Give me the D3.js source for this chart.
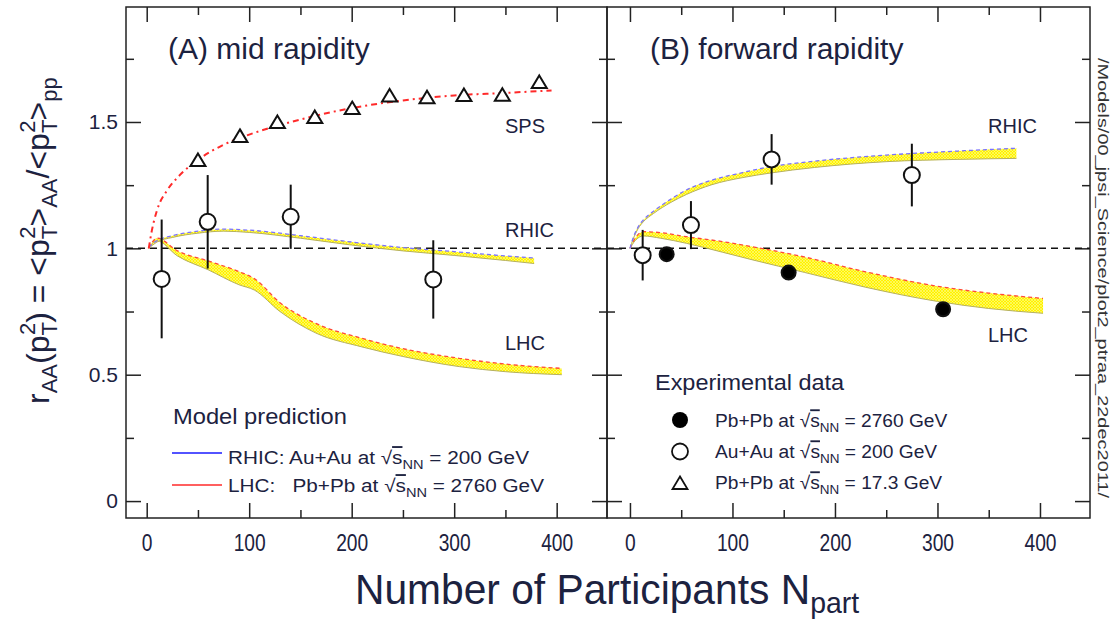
<!DOCTYPE html>
<html>
<head>
<meta charset="utf-8">
<script src="https://cdn.jsdelivr.net/npm/d3@7"></script>
<style>
  body { margin: 0; background: #fff; }
  svg { display: block; font-family: "Liberation Sans", Arial, sans-serif; }
</style>
</head>
<body>
<div id="chart"></div>
<script>
// ticks
const xMajor = [0, 100, 200, 300, 400];
const xMinor = [50, 150, 250, 350];
const yMajor = [0, 0.5, 1, 1.5];
const yMinor = [0.25, 0.75, 1.25, 1.75];

// SPS Pb+Pb 17.3 GeV (triangles, mid rapidity)
const spsN = [50, 91, 127.5, 164, 200.5, 237, 273.5, 309.5, 347, 383];
const spsR = [1.35, 1.445, 1.50, 1.52, 1.555, 1.605, 1.598, 1.607, 1.608, 1.658];
// SPS model curve
const spsCurveN = [2, 5, 10, 20, 30, 50, 75, 100, 150, 200, 250, 300, 350, 395];
const spsCurveR = [1.0, 1.07, 1.15, 1.23, 1.28, 1.35, 1.41, 1.45, 1.51, 1.555, 1.585, 1.605, 1.615, 1.625];

// Au+Au 200 GeV, mid rapidity (open circles)
const auMidN = [14.6, 59.5, 140.5, 279.6];
const auMidR = [0.879, 1.105, 1.125, 0.877];
const auMidErr = [0.235, 0.185, 0.127, 0.155];

// Au+Au 200 GeV, forward rapidity (open circles)
const auFwdN = [12.4, 59.5, 138.2, 275];
const auFwdR = [0.973, 1.092, 1.352, 1.29];
const auFwdErr = [0.1, 0.095, 0.1, 0.124];

// Pb+Pb 2760 GeV, forward rapidity (filled circles)
const pbFwdN = [35.8, 154.8, 305.5];
const pbFwdR = [0.977, 0.904, 0.759];
const pbFwdErr = [0.01, 0.02, 0.01];

// model bands
const rhicMidN  = [2, 10, 25, 50, 75, 100, 150, 200, 250, 300, 350, 378];
const rhicMidHi = [1.005, 1.03, 1.05, 1.068, 1.076, 1.072, 1.05, 1.025, 1.003, 0.987, 0.97, 0.962];
const rhicMidLo = [1.0, 1.025, 1.043, 1.06, 1.068, 1.063, 1.04, 1.013, 0.99, 0.972, 0.952, 0.94];

const lhcMidN  = [2, 10, 30, 60, 90, 105, 130, 165, 210, 250, 305, 350, 405];
const lhcMidHi = [1.0, 1.04, 0.99, 0.95, 0.908, 0.88, 0.785, 0.703, 0.644, 0.603, 0.565, 0.542, 0.525];
const lhcMidLo = [1.0, 1.03, 0.97, 0.915, 0.856, 0.835, 0.75, 0.665, 0.61, 0.572, 0.532, 0.512, 0.5];

const rhicFwdN  = [0, 3, 8, 13, 23, 40, 55, 80, 110, 137, 180, 250, 320, 377];
const rhicFwdHi = [1.0, 1.04, 1.085, 1.112, 1.147, 1.195, 1.231, 1.27, 1.3, 1.323, 1.345, 1.369, 1.385, 1.396];
const rhicFwdLo = [1.0, 1.035, 1.078, 1.105, 1.138, 1.182, 1.213, 1.252, 1.28, 1.298, 1.32, 1.343, 1.352, 1.356];

const lhcFwdN  = [0, 5, 13, 30, 55, 90, 120, 170, 230, 300, 350, 403];
const lhcFwdHi = [1.0, 1.04, 1.066, 1.062, 1.046, 1.027, 1.006, 0.966, 0.907, 0.85, 0.823, 0.802];
const lhcFwdLo = [1.0, 1.03, 1.049, 1.04, 1.02, 0.985, 0.954, 0.905, 0.846, 0.79, 0.762, 0.743];

const W = 1112, H = 623;
const plotTop = 7, plotBottom = 518;
const ink = "#1c2240";

const y = d3.scaleLinear().domain([-0.067, 1.955]).range([plotBottom, plotTop]);
const xL = d3.scaleLinear().domain([-20.2, 449.1]).range([126, 607]);
const xR = d3.scaleLinear().domain([-22.4, 448.8]).range([607, 1090]);

const svg = d3.select("#chart").append("svg")
  .attr("width", W).attr("height", H);

// hatched yellow for the bands
const defs = svg.append("defs");
const pat = defs.append("pattern").attr("id", "hatch")
  .attr("patternUnits", "userSpaceOnUse").attr("width", 3).attr("height", 3);
pat.append("rect").attr("width", 3).attr("height", 3).attr("fill", "#fff200");
pat.append("path").attr("d", "M0,0L3,3M3,0L0,3")
  .attr("stroke", "#fffb8a").attr("stroke-width", 0.6);

// small helper for text with sub/superscripts
function rich(text, parts) {
  let cur = 0;
  parts.forEach(p => {
    const off = p.o || 0;
    const ts = text.append("tspan").attr("dy", off - cur).text(p.t);
    if (p.s) ts.attr("font-size", p.s);
    if (p.dx) ts.attr("dx", p.dx);
    if (p.ol) ts.attr("text-decoration", "overline");
    cur = off;
  });
  return text;
}

// stretch/squeeze a text horizontally so it spans the given width
function fit(text, width) {
  const x0 = +text.attr("x");
  const w = text.node().getBBox().width;
  text.attr("transform", `translate(${x0},0) scale(${width / w},1) translate(${-x0},0)`);
  return text;
}

function drawPanel(x, showYLabels) {
  const g = svg.append("g");
  const tick = sel => sel.call(s => s.select(".domain").remove())
    .call(s => s.selectAll("line").attr("stroke", "#222").attr("stroke-width", 1.5));

  g.append("g").attr("transform", `translate(0,${plotBottom})`)
    .call(d3.axisBottom(x).tickValues(xMajor).tickSize(-15).tickPadding(16))
    .call(tick)
    .call(s => s.selectAll("text")
      .attr("font-size", 24).attr("fill", ink)
      .attr("font-family", "'Liberation Sans', Arial, sans-serif")
      .attr("transform", "scale(0.8,1)"));
  g.append("g").attr("transform", `translate(0,${plotBottom})`)
    .call(d3.axisBottom(x).tickValues(xMinor).tickSize(-8).tickFormat(""))
    .call(tick);
  g.append("g").attr("transform", `translate(0,${plotTop})`)
    .call(d3.axisTop(x).tickValues(xMajor).tickSize(-15).tickFormat(""))
    .call(tick);
  g.append("g").attr("transform", `translate(0,${plotTop})`)
    .call(d3.axisTop(x).tickValues(xMinor).tickSize(-8).tickFormat(""))
    .call(tick);

  const x0 = x.range()[0], x1 = x.range()[1];
  const left = d3.axisLeft(y).tickValues(yMajor).tickSize(-15).tickPadding(8)
    .tickFormat(showYLabels ? d => String(d) : "");
  g.append("g").attr("transform", `translate(${x0},0)`)
    .call(left)
    .call(tick)
    .call(s => s.selectAll("text")
      .attr("font-size", 21).attr("fill", ink)
      .attr("font-family", "'Liberation Sans', Arial, sans-serif"));
  g.append("g").attr("transform", `translate(${x0},0)`)
    .call(d3.axisLeft(y).tickValues(yMinor).tickSize(-8).tickFormat(""))
    .call(tick);
  g.append("g").attr("transform", `translate(${x1},0)`)
    .call(d3.axisRight(y).tickValues(yMajor).tickSize(-15).tickFormat(""))
    .call(tick);
  g.append("g").attr("transform", `translate(${x1},0)`)
    .call(d3.axisRight(y).tickValues(yMinor).tickSize(-8).tickFormat(""))
    .call(tick);

  // reference line at 1
  g.append("line")
    .attr("x1", x0).attr("x2", x1).attr("y1", y(1)).attr("y2", y(1))
    .attr("stroke", "#111").attr("stroke-width", 1.5).attr("stroke-dasharray", "7,5");

  g.append("rect")
    .attr("x", x0).attr("y", plotTop).attr("width", x1 - x0).attr("height", plotBottom - plotTop)
    .attr("fill", "none").attr("stroke", "#222").attr("stroke-width", 1.5);
  return g;
}

function band(g, x, N, hi, lo, edgeColor) {
  const rows = N.map((n, i) => ({ n, hi: hi[i], lo: lo[i] }));
  const area = d3.area().curve(d3.curveMonotoneX)
    .x(d => x(d.n)).y0(d => y(d.lo)).y1(d => y(d.hi));
  const lineHi = d3.line().curve(d3.curveMonotoneX).x(d => x(d.n)).y(d => y(d.hi));
  const lineLo = d3.line().curve(d3.curveMonotoneX).x(d => x(d.n)).y(d => y(d.lo));
  g.append("path").datum(rows).attr("d", area).attr("fill", "url(#hatch)");
  g.append("path").datum(rows).attr("d", lineLo)
    .attr("fill", "none").attr("stroke", "#b5b060").attr("stroke-width", 1);
  g.append("path").datum(rows).attr("d", lineHi)
    .attr("fill", "none").attr("stroke", edgeColor).attr("stroke-width", 1.3)
    .attr("stroke-dasharray", "4,3");
}

function errPoints(g, x, N, R, E, fill, r) {
  const rows = N.map((n, i) => ({ n, r: R[i], e: E[i] }));
  g.append("g").selectAll("line").data(rows).join("line")
    .attr("x1", d => x(d.n)).attr("x2", d => x(d.n))
    .attr("y1", d => y(d.r + d.e)).attr("y2", d => y(d.r - d.e))
    .attr("stroke", "#111").attr("stroke-width", 2);
  g.append("g").selectAll("circle").data(rows).join("circle")
    .attr("cx", d => x(d.n)).attr("cy", d => y(d.r)).attr("r", r)
    .attr("fill", fill).attr("stroke", "#111").attr("stroke-width", 2);
}

const triPath = "M0,-6.5L7.5,6L-7.5,6Z";

// ---------- panel A ----------
const gA = drawPanel(xL, true);
band(gA, xL, lhcMidN, lhcMidHi, lhcMidLo, "#ff4a3a");
band(gA, xL, rhicMidN, rhicMidHi, rhicMidLo, "#7a72ff");

gA.append("path")
  .datum(spsCurveN.map((n, i) => [n, spsCurveR[i]]))
  .attr("d", d3.line().curve(d3.curveMonotoneX).x(d => xL(d[0])).y(d => y(d[1])))
  .attr("fill", "none").attr("stroke", "#ff2a2a").attr("stroke-width", 2)
  .attr("stroke-dasharray", "6,4,2,4");

gA.append("g").selectAll("path").data(spsN).join("path")
  .attr("d", triPath)
  .attr("transform", (n, i) => `translate(${xL(n)},${y(spsR[i])})`)
  .attr("fill", "#fff").attr("stroke", "#111").attr("stroke-width", 2);

errPoints(gA, xL, auMidN, auMidR, auMidErr, "#fff", 8);

gA.append("text").attr("x", 168).attr("y", 59).attr("font-size", 30).attr("fill", ink)
  .text("(A) mid rapidity");
[["SPS", 133], ["RHIC", 237], ["LHC", 350]].forEach(([t, yy]) =>
  gA.append("text").attr("x", 505).attr("y", yy).attr("font-size", 20).attr("fill", ink).text(t));

fit(gA.append("text").attr("x", 173).attr("y", 424).attr("font-size", 22).attr("fill", ink)
  .text("Model prediction"), 174);
gA.append("line").attr("x1", 172).attr("x2", 222).attr("y1", 453).attr("y2", 453)
  .attr("stroke", "#1a1aff").attr("stroke-width", 1.6);
gA.append("line").attr("x1", 172).attr("x2", 222).attr("y1", 485).attr("y2", 485)
  .attr("stroke", "#ff2a2a").attr("stroke-width", 1.6);
fit(rich(gA.append("text").attr("x", 228).attr("y", 464).attr("font-size", 18.5).attr("fill", ink)
  .attr("xml:space", "preserve").style("white-space", "pre"),
  [{ t: "RHIC: Au+Au at √" }, { t: "s", ol: true }, { t: "NN", s: 13, o: 5 }, { t: " = 200 GeV" }]), 302);
fit(rich(gA.append("text").attr("x", 228).attr("y", 492).attr("font-size", 18.5).attr("fill", ink)
  .attr("xml:space", "preserve").style("white-space", "pre"),
  [{ t: "LHC:   Pb+Pb at √" }, { t: "s", ol: true }, { t: "NN", s: 13, o: 5 }, { t: " = 2760 GeV" }]), 317);

// ---------- panel B ----------
const gB = drawPanel(xR, false);
band(gB, xR, lhcFwdN, lhcFwdHi, lhcFwdLo, "#ff4a3a");
band(gB, xR, rhicFwdN, rhicFwdHi, rhicFwdLo, "#7a72ff");
errPoints(gB, xR, auFwdN, auFwdR, auFwdErr, "#fff", 8);
errPoints(gB, xR, pbFwdN, pbFwdR, pbFwdErr, "#000", 7);

gB.append("text").attr("x", 650).attr("y", 59).attr("font-size", 30).attr("fill", ink)
  .text("(B) forward rapidity");
gB.append("text").attr("x", 988).attr("y", 133).attr("font-size", 20).attr("fill", ink).text("RHIC");
gB.append("text").attr("x", 988).attr("y", 342).attr("font-size", 20).attr("fill", ink).text("LHC");

fit(gB.append("text").attr("x", 655).attr("y", 390).attr("font-size", 22).attr("fill", ink)
  .text("Experimental data"), 190);
gB.append("circle").attr("cx", 680).attr("cy", 420).attr("r", 8).attr("fill", "#000");
gB.append("circle").attr("cx", 680).attr("cy", 451.5).attr("r", 8)
  .attr("fill", "#fff").attr("stroke", "#111").attr("stroke-width", 1.8);
gB.append("path").attr("d", triPath).attr("transform", "translate(680,483)")
  .attr("fill", "#fff").attr("stroke", "#111").attr("stroke-width", 1.8);
[["Pb+Pb at √", " = 2760 GeV", 427, 233], ["Au+Au at √", " = 200 GeV", 458, 223], ["Pb+Pb at √", " = 17.3 GeV", 489, 228]]
  .forEach(([a, b, yy, w]) => fit(rich(
    gB.append("text").attr("x", 715).attr("y", yy).attr("font-size", 18.5).attr("fill", ink),
    [{ t: a }, { t: "s", ol: true }, { t: "NN", s: 13, o: 5 }, { t: b }]), w));

// ---------- axis titles ----------
rich(svg.append("text").attr("transform", "translate(49,404) rotate(-90)")
  .attr("font-size", 32).attr("fill", ink).attr("xml:space", "preserve").style("white-space", "pre"),
  [{ t: "r" }, { t: "AA", s: 22, o: 8 }, { t: "(p" },
   { t: "T", s: 22, o: 8 }, { t: "2", s: 22, o: -14, dx: -13 }, { t: ") = <p" },
   { t: "T", s: 22, o: 8 }, { t: "2", s: 22, o: -14, dx: -13 }, { t: ">" },
   { t: "AA", s: 22, o: 8 }, { t: "/<p" },
   { t: "T", s: 22, o: 8 }, { t: "2", s: 22, o: -14, dx: -13 }, { t: ">" },
   { t: "pp", s: 22, o: 8 }]);

fit(rich(svg.append("text").attr("x", 355).attr("y", 604)
  .attr("font-size", 43).attr("fill", ink),
  [{ t: "Number of Participants N" }, { t: "part", s: 30, o: 9 }]), 505);

svg.append("text").attr("transform", "translate(1098,58) rotate(90)")
  .attr("font-size", 14).attr("fill", "#333")
  .attr("textLength", 440).attr("lengthAdjust", "spacingAndGlyphs")
  .text("/Models/00_jpsi_Science/plot2_ptraa_22dec2011/");
</script>
</body>
</html>
